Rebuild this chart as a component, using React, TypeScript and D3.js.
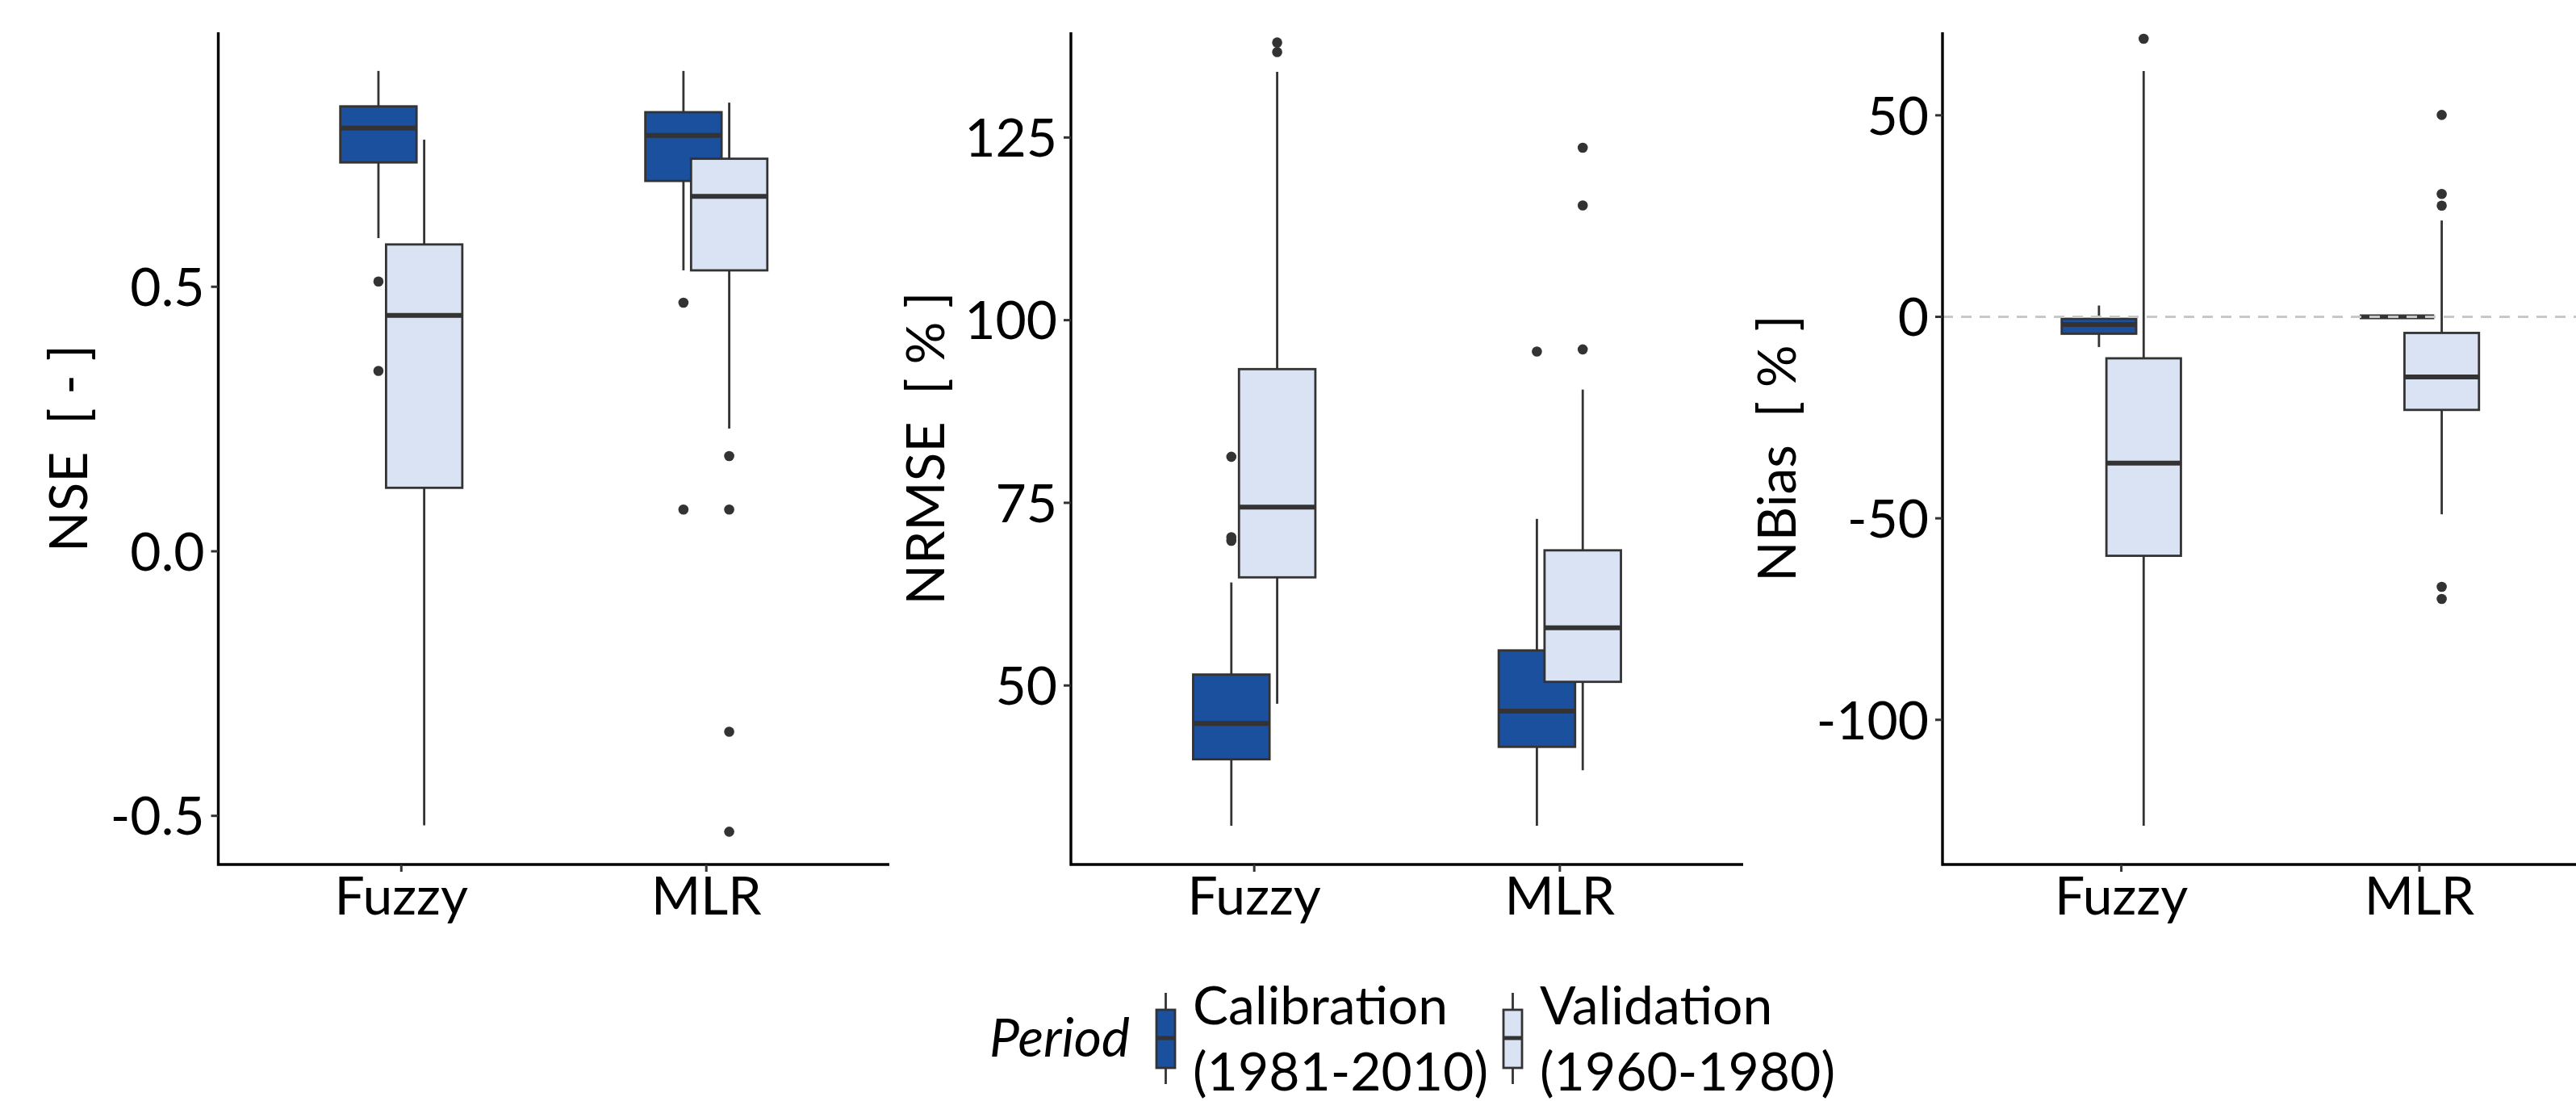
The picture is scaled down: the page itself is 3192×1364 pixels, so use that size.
import * as d3 from "d3";

const methods = ["Fuzzy", "MLR"];
const periods = ["Calibration", "Validation"];
const periodFill = ["#1a509e", "#dae3f3"];
const periodLabels = [
  ["Calibration", "(1981-2010)"],
  ["Validation", "(1960-1980)"],
];

// rows: Fuzzy-Calibration, Fuzzy-Validation, MLR-Calibration, MLR-Validation
// each row: [lower whisker, q1, median, q3, upper whisker]
const nseBoxes = [
  [0.592, 0.735, 0.8, 0.841, 0.908],
  [-0.518, 0.12, 0.446, 0.58, 0.778],
  [0.531, 0.7, 0.786, 0.83, 0.908],
  [0.232, 0.531, 0.671, 0.742, 0.848],
];
const nseOutliers = [[0.51, 0.341], [], [0.47, 0.079], [0.18, 0.079, -0.341, -0.53]];
const nseTicks = [-0.5, 0, 0.5];

const nrmseBoxes = [
  [30.8, 39.9, 44.8, 51.5, 64.1],
  [47.5, 64.8, 74.4, 93.3, 134.0],
  [30.8, 41.6, 46.5, 54.8, 72.8],
  [38.4, 50.5, 57.9, 68.5, 90.5],
];
const nrmseOutliers = [[81.3, 70.3, 69.8], [138.0, 136.7], [95.7], [123.6, 115.7, 96.0]];
const nrmseTicks = [50, 75, 100, 125];

const nbiasBoxes = [
  [-7.5, -4.2, -1.9, -0.5, 2.8],
  [-126.3, -59.3, -36.3, -10.3, 61.0],
  [0, 0, 0, 0, 0],
  [-49.0, -23.1, -14.9, -4.0, 23.9],
];
const nbiasOutliers = [[], [69.0], [], [50.1, 30.5, 27.6, -67.0, -70.0]];
const nbiasTicks = [-100, -50, 0, 50];

const W = 3192;
const H = 1364;
const plotTop = 40;
const plotBottom = 1071;
const font = "Lato, 'Open Sans', sans-serif";
const fs = 66;
const ink = "#333333";

const panels = [
  {
    title: "NSE  [ - ]", boxes: nseBoxes, outliers: nseOutliers, ticks: nseTicks,
    fmt: d3.format(".1f"), domain: [-0.592, 0.981], x0: 270.5, x1: 1102, titleX: 108, zero: false,
  },
  {
    title: "NRMSE  [ % ]", boxes: nrmseBoxes, outliers: nrmseOutliers, ticks: nrmseTicks,
    fmt: d3.format("d"), domain: [25.5, 139.4], x0: 1327, x1: 2160, titleX: 1170, zero: false,
  },
  {
    title: "NBias  [ % ]", boxes: nbiasBoxes, outliers: nbiasOutliers, ticks: nbiasTicks,
    fmt: d3.format("d"), domain: [-135.9, 70.6], x0: 2407, x1: 3219.5, titleX: 2225, zero: true,
  },
];

function Panel({ p }) {
  const x = d3.scalePoint().domain(methods).range([p.x0, p.x1]).padding(0.6);
  const u = x.step();
  const y = d3.scaleLinear().domain(p.domain).range([plotBottom, plotTop]);
  const boxW = 0.25 * u;
  const dodge = 0.075 * u;
  const fmt = (v) => p.fmt(v).replace("−", "-");

  const groups = p.boxes.map((b, i) => {
    const m = methods[Math.floor(i / 2)];
    const k = i % 2;
    const cx = x(m) + (k === 0 ? -dodge : dodge);
    return { b, k, cx, out: p.outliers[i] };
  });

  return (
    <g>
      {groups.map((g, i) => (
        <g key={i}>
          {g.out.map((v, j) => (
            <circle key={j} cx={g.cx} cy={y(v)} r={6.3} fill={ink} />
          ))}
          <line x1={g.cx} x2={g.cx} y1={y(g.b[3])} y2={y(g.b[4])} stroke={ink} strokeWidth={2.8} />
          <line x1={g.cx} x2={g.cx} y1={y(g.b[1])} y2={y(g.b[0])} stroke={ink} strokeWidth={2.8} />
          <rect
            x={g.cx - boxW / 2}
            y={y(g.b[3])}
            width={boxW}
            height={Math.max(0, y(g.b[1]) - y(g.b[3]))}
            fill={periodFill[g.k]}
            stroke={ink}
            strokeWidth={2.8}
          />
          <line
            x1={g.cx - boxW / 2}
            x2={g.cx + boxW / 2}
            y1={y(g.b[2])}
            y2={y(g.b[2])}
            stroke={ink}
            strokeWidth={6}
          />
        </g>
      ))}
      {p.zero && (
        <line
          x1={p.x0}
          x2={p.x1}
          y1={y(0)}
          y2={y(0)}
          stroke="#c8c8c8"
          strokeWidth={3}
          strokeDasharray="13 10"
        />
      )}
      <path
        d={`M${p.x0},${plotTop}V${plotBottom}H${p.x1}`}
        fill="none"
        stroke="#000"
        strokeWidth={3.4}
      />
      {p.ticks.map((t) => (
        <g key={t}>
          <line x1={p.x0 - 9} x2={p.x0} y1={y(t)} y2={y(t)} stroke={ink} strokeWidth={3} />
          <text
            x={p.x0 - 17}
            y={y(t)}
            dy="0.36em"
            textAnchor="end"
            fontFamily={font}
            fontSize={fs}
            fill="#000"
          >
            {fmt(t)}
          </text>
        </g>
      ))}
      {methods.map((m) => (
        <g key={m}>
          <line x1={x(m)} x2={x(m)} y1={plotBottom} y2={plotBottom + 9} stroke={ink} strokeWidth={3} />
          <text x={x(m)} y={1133} textAnchor="middle" fontFamily={font} fontSize={fs} fill="#000">
            {m}
          </text>
        </g>
      ))}
      <text
        transform={`translate(${p.titleX},${(plotTop + plotBottom) / 2}) rotate(-90)`}
        textAnchor="middle"
        fontFamily={font}
        fontSize={fs}
        fill="#000"
        style={{ whiteSpace: "pre" }}
      >
        {p.title}
      </text>
    </g>
  );
}

function Legend() {
  const keyX = [1433, 1863];
  const keyW = 23;
  return (
    <g>
      <text x={1226} y={1309} fontFamily={font} fontStyle="italic" fontSize={fs} fill="#000">
        Period
      </text>
      {periods.map((pd, k) => {
        const cx = keyX[k] + keyW / 2;
        return (
          <g key={pd}>
            <line x1={cx} x2={cx} y1={1230} y2={1343} stroke={ink} strokeWidth={2.8} />
            <rect x={keyX[k]} y={1251} width={keyW} height={72} fill={periodFill[k]} stroke={ink} strokeWidth={2.8} />
            <line x1={keyX[k]} x2={keyX[k] + keyW} y1={1286} y2={1286} stroke={ink} strokeWidth={5} />
            {periodLabels[k].map((s, j) => (
              <text key={j} x={keyX[k] + keyW + 22} y={1269 + j * 82} fontFamily={font} fontSize={fs} fill="#000">
                {s}
              </text>
            ))}
          </g>
        );
      })}
    </g>
  );
}

export default function App() {
  return (
    <svg
      width={W}
      height={H}
      viewBox={`0 0 ${W} ${H}`}
      style={{ position: "absolute", left: 0, top: 0, background: "#fff" }}
    >
      <rect width={W} height={H} fill="#fff" />
      {panels.map((p, i) => (
        <Panel key={i} p={p} />
      ))}
      <Legend />
    </svg>
  );
}
